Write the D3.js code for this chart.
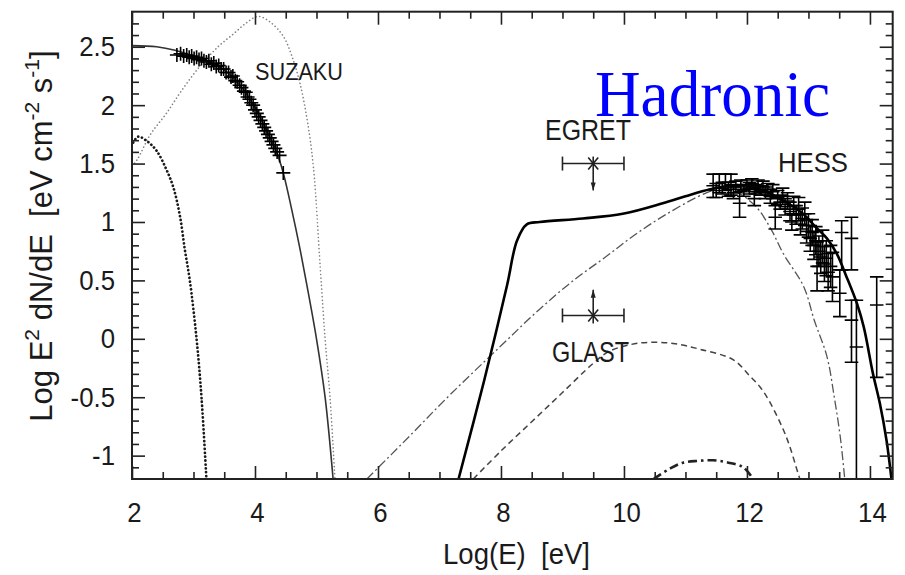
<!DOCTYPE html>
<html>
<head>
<meta charset="utf-8">
<script src="https://cdn.jsdelivr.net/npm/d3@7"></script>
<style>
  html, body { margin: 0; padding: 0; background: #fff; }
  svg { display: block; }
  text { font-family: "Liberation Sans", Arial, sans-serif; fill: #1a1a1a; white-space: pre; }
  text.serif { font-family: "Liberation Serif", "Times New Roman", serif; fill: #0000ff; }
</style>
</head>
<body>
<svg id="chart" width="905" height="575"></svg>
<script>
// ---- axis setup ----
const xDomain = [2, 14.37];
const yDomain = [-1.2, 2.8];
const xTickValues = [2, 4, 6, 8, 10, 12, 14];
const xTickLabels = ["2", "4", "6", "8", "10", "12", "14"];
const yTickValues = [-1, -0.5, 0, 0.5, 1, 1.5, 2, 2.5];
const yTickLabels = ["-1", "-0.5", "0", "0.5", "1", "1.5", "2", "2.5"];

// ---- model curves: [log E, log E^2 dN/dE] ----
const synchrotronPrimary = [[2.0,2.51],[2.4,2.50],[2.7,2.47],[3.0,2.42],[3.3,2.36],[3.6,2.26],[3.8,2.14],[4.0,1.98],[4.2,1.77],[4.35,1.6],[4.46,1.42],[4.6,1.1],[4.72,0.8],[4.84,0.47],[5.0,0.0],[5.14,-0.5],[5.27,-1.2]];
const synchrotronWide = [[2.0,1.48],[2.08,1.53],[2.3,1.75],[2.56,1.93],[2.8,2.12],[3.1,2.33],[3.4,2.50],[3.65,2.61],[3.85,2.70],[4.05,2.76],[4.25,2.71],[4.46,2.59],[4.6,2.42],[4.73,2.19],[4.85,1.87],[4.95,1.47],[5.06,0.62],[5.14,0.0],[5.22,-0.5],[5.3,-1.2]];
const synchrotronSecondary = [[2.02,1.68],[2.1,1.73],[2.25,1.69],[2.4,1.61],[2.55,1.46],[2.67,1.30],[2.78,1.05],[2.86,0.76],[2.94,0.5],[3.05,0.0],[3.13,-0.5],[3.21,-1.2]];
const pionDecay = [[5.82,-1.2],[6.5,-0.84],[7.17,-0.48],[8.0,-0.06],[8.6,0.24],[9.18,0.5],[9.7,0.7],[10.15,0.88],[10.7,1.07],[11.34,1.25],[11.6,1.29],[11.85,1.25],[12.15,1.13],[12.4,0.93],[12.59,0.73],[12.92,0.45],[13.1,0.15],[13.3,-0.15],[13.42,-0.5],[13.52,-0.85],[13.59,-1.2]];
const inverseCompton = [[7.55,-1.2],[8.0,-0.96],[8.5,-0.71],[9.0,-0.46],[9.5,-0.21],[9.75,-0.11],[10.1,-0.05],[10.42,-0.03],[10.8,-0.04],[11.24,-0.09],[11.78,-0.18],[12.05,-0.32],[12.21,-0.41],[12.37,-0.54],[12.64,-0.84],[12.83,-1.15],[12.86,-1.2]];
const bremsstrahlung = [[10.48,-1.2],[10.75,-1.11],[10.96,-1.06],[11.2,-1.045],[11.45,-1.04],[11.7,-1.06],[11.94,-1.1],[12.1,-1.2]];
const totalGamma = [[7.31,-1.2],[7.73,-0.35],[8.1,0.46],[8.26,0.84],[8.42,0.98],[8.63,1.0],[9.33,1.03],[9.98,1.07],[10.63,1.16],[11.0,1.22],[11.4,1.28],[11.7,1.31],[12.0,1.31],[12.3,1.26],[12.6,1.18],[12.91,1.07],[13.13,0.95],[13.3,0.86],[13.46,0.73],[13.62,0.53],[13.79,0.3],[13.9,0.1],[14.05,-0.3],[14.16,-0.55],[14.27,-0.87],[14.35,-1.2]];

// ---- SUZAKU X-ray points ----
const suzakuPoints = [[2.73,2.43],[2.79,2.44],[2.84,2.42],[2.89,2.43],[2.93,2.41],[2.97,2.42],[3.01,2.40],[3.05,2.41],[3.09,2.39],[3.13,2.40],[3.17,2.38],[3.21,2.37],[3.25,2.38],[3.29,2.35],[3.33,2.36],[3.37,2.33],[3.41,2.34],[3.45,2.31],[3.49,2.31],[3.53,2.28],[3.57,2.28],[3.61,2.24],[3.64,2.25],[3.68,2.21],[3.71,2.20],[3.75,2.17],[3.78,2.15],[3.82,2.12],[3.85,2.11],[3.88,2.07],[3.91,2.05],[3.94,2.02],[3.97,2.00],[4.00,1.96],[4.03,1.93],[4.06,1.90],[4.09,1.87],[4.12,1.84],[4.15,1.81],[4.18,1.78],[4.21,1.75],[4.24,1.72],[4.27,1.69],[4.30,1.66],[4.33,1.63],[4.36,1.60],[4.40,1.57],[4.46,1.42]];

// ---- HESS points: [log E, value, error down, error up] ----
const hessPoints = [[11.45,1.31,0.10,0.10],[11.50,1.27,0.06,0.06],[11.55,1.33,0.08,0.08],[11.60,1.29,0.05,0.05],[11.65,1.34,0.07,0.07],[11.70,1.28,0.06,0.06],[11.74,1.32,0.09,0.09],[11.78,1.25,0.05,0.05],[11.82,1.30,0.05,0.05],[11.88,1.16,0.12,0.12],[11.90,1.31,0.05,0.05],[11.95,1.27,0.05,0.05],[12.00,1.32,0.04,0.04],[12.04,1.29,0.05,0.05],[12.08,1.33,0.04,0.04],[12.12,1.20,0.06,0.06],[12.14,1.28,0.04,0.04],[12.18,1.31,0.05,0.05],[12.22,1.27,0.04,0.04],[12.26,1.30,0.05,0.05],[12.30,1.25,0.05,0.05],[12.34,1.28,0.05,0.05],[12.38,1.22,0.06,0.06],[12.42,1.26,0.06,0.06],[12.46,1.04,0.10,0.10],[12.50,1.21,0.06,0.06],[12.54,1.17,0.06,0.06],[12.58,1.22,0.07,0.07],[12.62,1.13,0.07,0.07],[12.66,1.18,0.07,0.07],[12.70,1.09,0.08,0.08],[12.73,1.00,0.07,0.07],[12.76,1.14,0.08,0.08],[12.80,1.06,0.08,0.08],[12.84,1.11,0.10,0.10],[12.87,0.98,0.09,0.09],[12.90,1.03,0.09,0.09],[12.94,1.07,0.10,0.10],[12.97,0.92,0.10,0.10],[13.00,0.97,0.10,0.10],[13.03,0.86,0.11,0.11],[13.06,0.91,0.11,0.11],[13.09,0.80,0.12,0.12],[13.12,0.84,0.12,0.12],[13.14,0.62,0.21,0.21],[13.17,0.75,0.13,0.13],[13.20,0.70,0.14,0.14],[13.23,0.79,0.14,0.14],[13.26,0.64,0.15,0.15],[13.29,0.69,0.15,0.15],[13.32,0.57,0.16,0.16],[13.36,0.62,0.18,0.18],[13.39,0.53,0.21,0.21],[13.51,0.39,0.20,0.20],[13.54,0.91,0.32,0.10],[13.70,0.86,0.27,0.18],[13.70,0.16,0.36,0.17],[13.78,-0.07,1.2,0.40],[14.11,0.29,0.62,0.24]];
const hessXErr = 0.11;

// ---- EGRET / GLAST points: [log E, value, half-width, arrow tip] ----
const egretPoint = [9.5, 1.5, 0.5, 1.27];
const glastPoint = [9.5, 0.2, 0.5, 0.42];

// ---- drawing ----
const svg = d3.select("#chart");
const plot = { left: 132, right: 892.7, top: 11.7, bottom: 479 };
const x = d3.scaleLinear().domain(xDomain).range([plot.left, plot.right]);
const y = d3.scaleLinear().domain(yDomain).range([plot.bottom, plot.top]);

svg.append("clipPath").attr("id", "plotClip")
  .append("rect").attr("x", plot.left).attr("y", plot.top)
  .attr("width", plot.right - plot.left).attr("height", plot.bottom - plot.top);

const line = d3.line().x(d => x(d[0])).y(d => y(d[1])).curve(d3.curveCatmullRom.alpha(0.5));
const g = svg.append("g").attr("clip-path", "url(#plotClip)");

function drawCurve(data, width, color, dash, cap) {
  g.append("path").datum(data).attr("d", line)
    .attr("fill", "none").attr("stroke", color).attr("stroke-width", width)
    .attr("stroke-dasharray", dash || null)
    .attr("stroke-linecap", cap || "butt");
}
drawCurve(synchrotronWide, 1.6, "#808080", "0.1,3.6", "round");
drawCurve(synchrotronSecondary, 2.7, "#1a1a1a", "0.1,3.8", "round");
drawCurve(synchrotronPrimary, 1.6, "#333");
drawCurve(pionDecay, 1.3, "#555", "9,3,2,3");
drawCurve(inverseCompton, 1.5, "#444", "6,4");
drawCurve(bremsstrahlung, 2.6, "#222", "9,4,2.5,4");
drawCurve(totalGamma, 2.6, "#000");

// SUZAKU crosses
const sz = g.append("g").attr("stroke", "#000").attr("stroke-width", 1.6);
suzakuPoints.forEach(p => {
  const cx = x(p[0]), cy = y(p[1]);
  sz.append("line").attr("x1", cx - 7).attr("x2", cx + 7).attr("y1", cy).attr("y2", cy);
  sz.append("line").attr("x1", cx).attr("x2", cx).attr("y1", cy - 7).attr("y2", cy + 7);
});

// HESS error bars
const hs = g.append("g").attr("stroke", "#000").attr("stroke-width", 1.6);
hessPoints.forEach(p => {
  const cx = x(p[0]), cy = y(p[1]);
  const x0 = x(p[0] - hessXErr), x1 = x(p[0] + hessXErr);
  const yl = y(p[1] - p[2]), yh = y(p[1] + p[3]);
  hs.append("line").attr("x1", x0).attr("x2", x1).attr("y1", cy).attr("y2", cy);
  hs.append("line").attr("x1", cx).attr("x2", cx).attr("y1", yh).attr("y2", yl);
  hs.append("line").attr("x1", x0).attr("x2", x1).attr("y1", yh).attr("y2", yh);
  hs.append("line").attr("x1", x0).attr("x2", x1).attr("y1", yl).attr("y2", yl);
});

// EGRET upper limit and GLAST sensitivity markers
function limitMarker(p, tailBeyond) {
  const m = svg.append("g").attr("stroke", "#222").attr("stroke-width", 1.6).attr("fill", "#222");
  const cx = x(p[0]), cy = y(p[1]);
  const xa = x(p[0] - p[2]), xb = x(p[0] + p[2]);
  const tip = y(p[3]);
  m.append("line").attr("x1", xa).attr("x2", xb).attr("y1", cy).attr("y2", cy);
  m.append("line").attr("x1", xa).attr("x2", xa).attr("y1", cy - 7).attr("y2", cy + 7);
  m.append("line").attr("x1", xb).attr("x2", xb).attr("y1", cy - 7).attr("y2", cy + 7);
  m.append("line").attr("x1", cx - 5).attr("x2", cx + 5).attr("y1", cy - 6).attr("y2", cy + 6);
  m.append("line").attr("x1", cx - 5).attr("x2", cx + 5).attr("y1", cy + 6).attr("y2", cy - 6);
  const dir = tip > cy ? 1 : -1;
  m.append("line").attr("x1", cx).attr("x2", cx).attr("y1", cy - dir * tailBeyond).attr("y2", tip);
  m.append("path").attr("stroke", "none")
    .attr("d", `M${cx},${tip} L${cx - 2.5},${tip - dir * 8} L${cx + 2.5},${tip - dir * 8} Z`);
}
limitMarker(egretPoint, 7);
limitMarker(glastPoint, 8);

// ---- frame and axes ----
const fmtX = d => xTickLabels[xTickValues.indexOf(d)];
const fmtY = d => yTickLabels[yTickValues.indexOf(d)];
const xMinor = d3.range(2, 14.4, 0.5).filter(v => xTickValues.indexOf(v) < 0);
const yMinor = d3.range(-12, 28, 1).map(v => v / 10).filter(v => yTickValues.indexOf(v) < 0 && v > -1.2);

function tickAxis(axisFn, scale, major, minor, pos, labelled, fmt, pad) {
  const gm = svg.append("g").attr("transform", pos)
    .call(axisFn(scale).tickValues(minor).tickSize(-7).tickFormat(""));
  const gM = svg.append("g").attr("transform", pos)
    .call(axisFn(scale).tickValues(major).tickSize(-13).tickPadding(pad).tickFormat(labelled ? fmt : ""));
  [gm, gM].forEach(a => {
    a.select(".domain").remove();
    a.selectAll("line").attr("stroke", "#222").attr("stroke-width", 1.6);
  });
  return gM;
}
const bottomAx = tickAxis(d3.axisBottom, x, xTickValues, xMinor, `translate(0,${plot.bottom})`, true, fmtX, 23);
tickAxis(d3.axisTop, x, xTickValues, xMinor, `translate(0,${plot.top})`, false);
const leftAx = tickAxis(d3.axisLeft, y, yTickValues, yMinor, `translate(${plot.left},0)`, true, fmtY, 17);
tickAxis(d3.axisRight, y, yTickValues, yMinor, `translate(${plot.right},0)`, false);

[bottomAx, leftAx].forEach(a => {
  a.selectAll("text")
    .attr("font-family", "Liberation Sans, Arial, sans-serif")
    .attr("font-size", 28).attr("fill", "#1a1a1a")
    .each(function () {
      const w = this.getComputedTextLength();
      d3.select(this).attr("textLength", w * 0.92).attr("lengthAdjust", "spacingAndGlyphs");
    });
});
bottomAx.selectAll("text").attr("dx", 2);

svg.append("rect")
  .attr("x", plot.left).attr("y", plot.top)
  .attr("width", plot.right - plot.left).attr("height", plot.bottom - plot.top)
  .attr("fill", "none").attr("stroke", "#222").attr("stroke-width", 2);

// ---- titles and labels ----
function label(txt, px, py, size, len, anchor) {
  return svg.append("text").attr("x", px).attr("y", py)
    .attr("font-size", size).attr("text-anchor", anchor || "start")
    .attr("textLength", len).attr("lengthAdjust", "spacingAndGlyphs")
    .text(txt);
}
label("Log(E)  [eV]", 443, 564, 30, 147);
label("SUZAKU", 255, 80, 23, 88);
label("EGRET", 545, 140, 29, 86);
label("HESS", 778, 172, 28, 70);
label("GLAST", 552, 362, 30, 77);

svg.append("text").attr("class", "serif").attr("x", 595).attr("y", 116)
  .attr("font-size", 66)
  .attr("textLength", 235).attr("lengthAdjust", "spacingAndGlyphs")
  .text("Hadronic");

const yt = svg.append("text")
  .attr("transform", "translate(52,236) rotate(-90)")
  .attr("text-anchor", "middle").attr("font-size", 31);
yt.append("tspan").text("Log E");
yt.append("tspan").attr("font-size", 21).attr("dy", -13).text("2");
yt.append("tspan").attr("dy", 13).text(" dN/dE  [eV cm");
yt.append("tspan").attr("font-size", 21).attr("dy", -13).text("-2");
yt.append("tspan").attr("dy", 13).text(" s");
yt.append("tspan").attr("font-size", 21).attr("dy", -13).text("-1");
yt.append("tspan").attr("dy", 13).text("]");
</script>
</body>
</html>
